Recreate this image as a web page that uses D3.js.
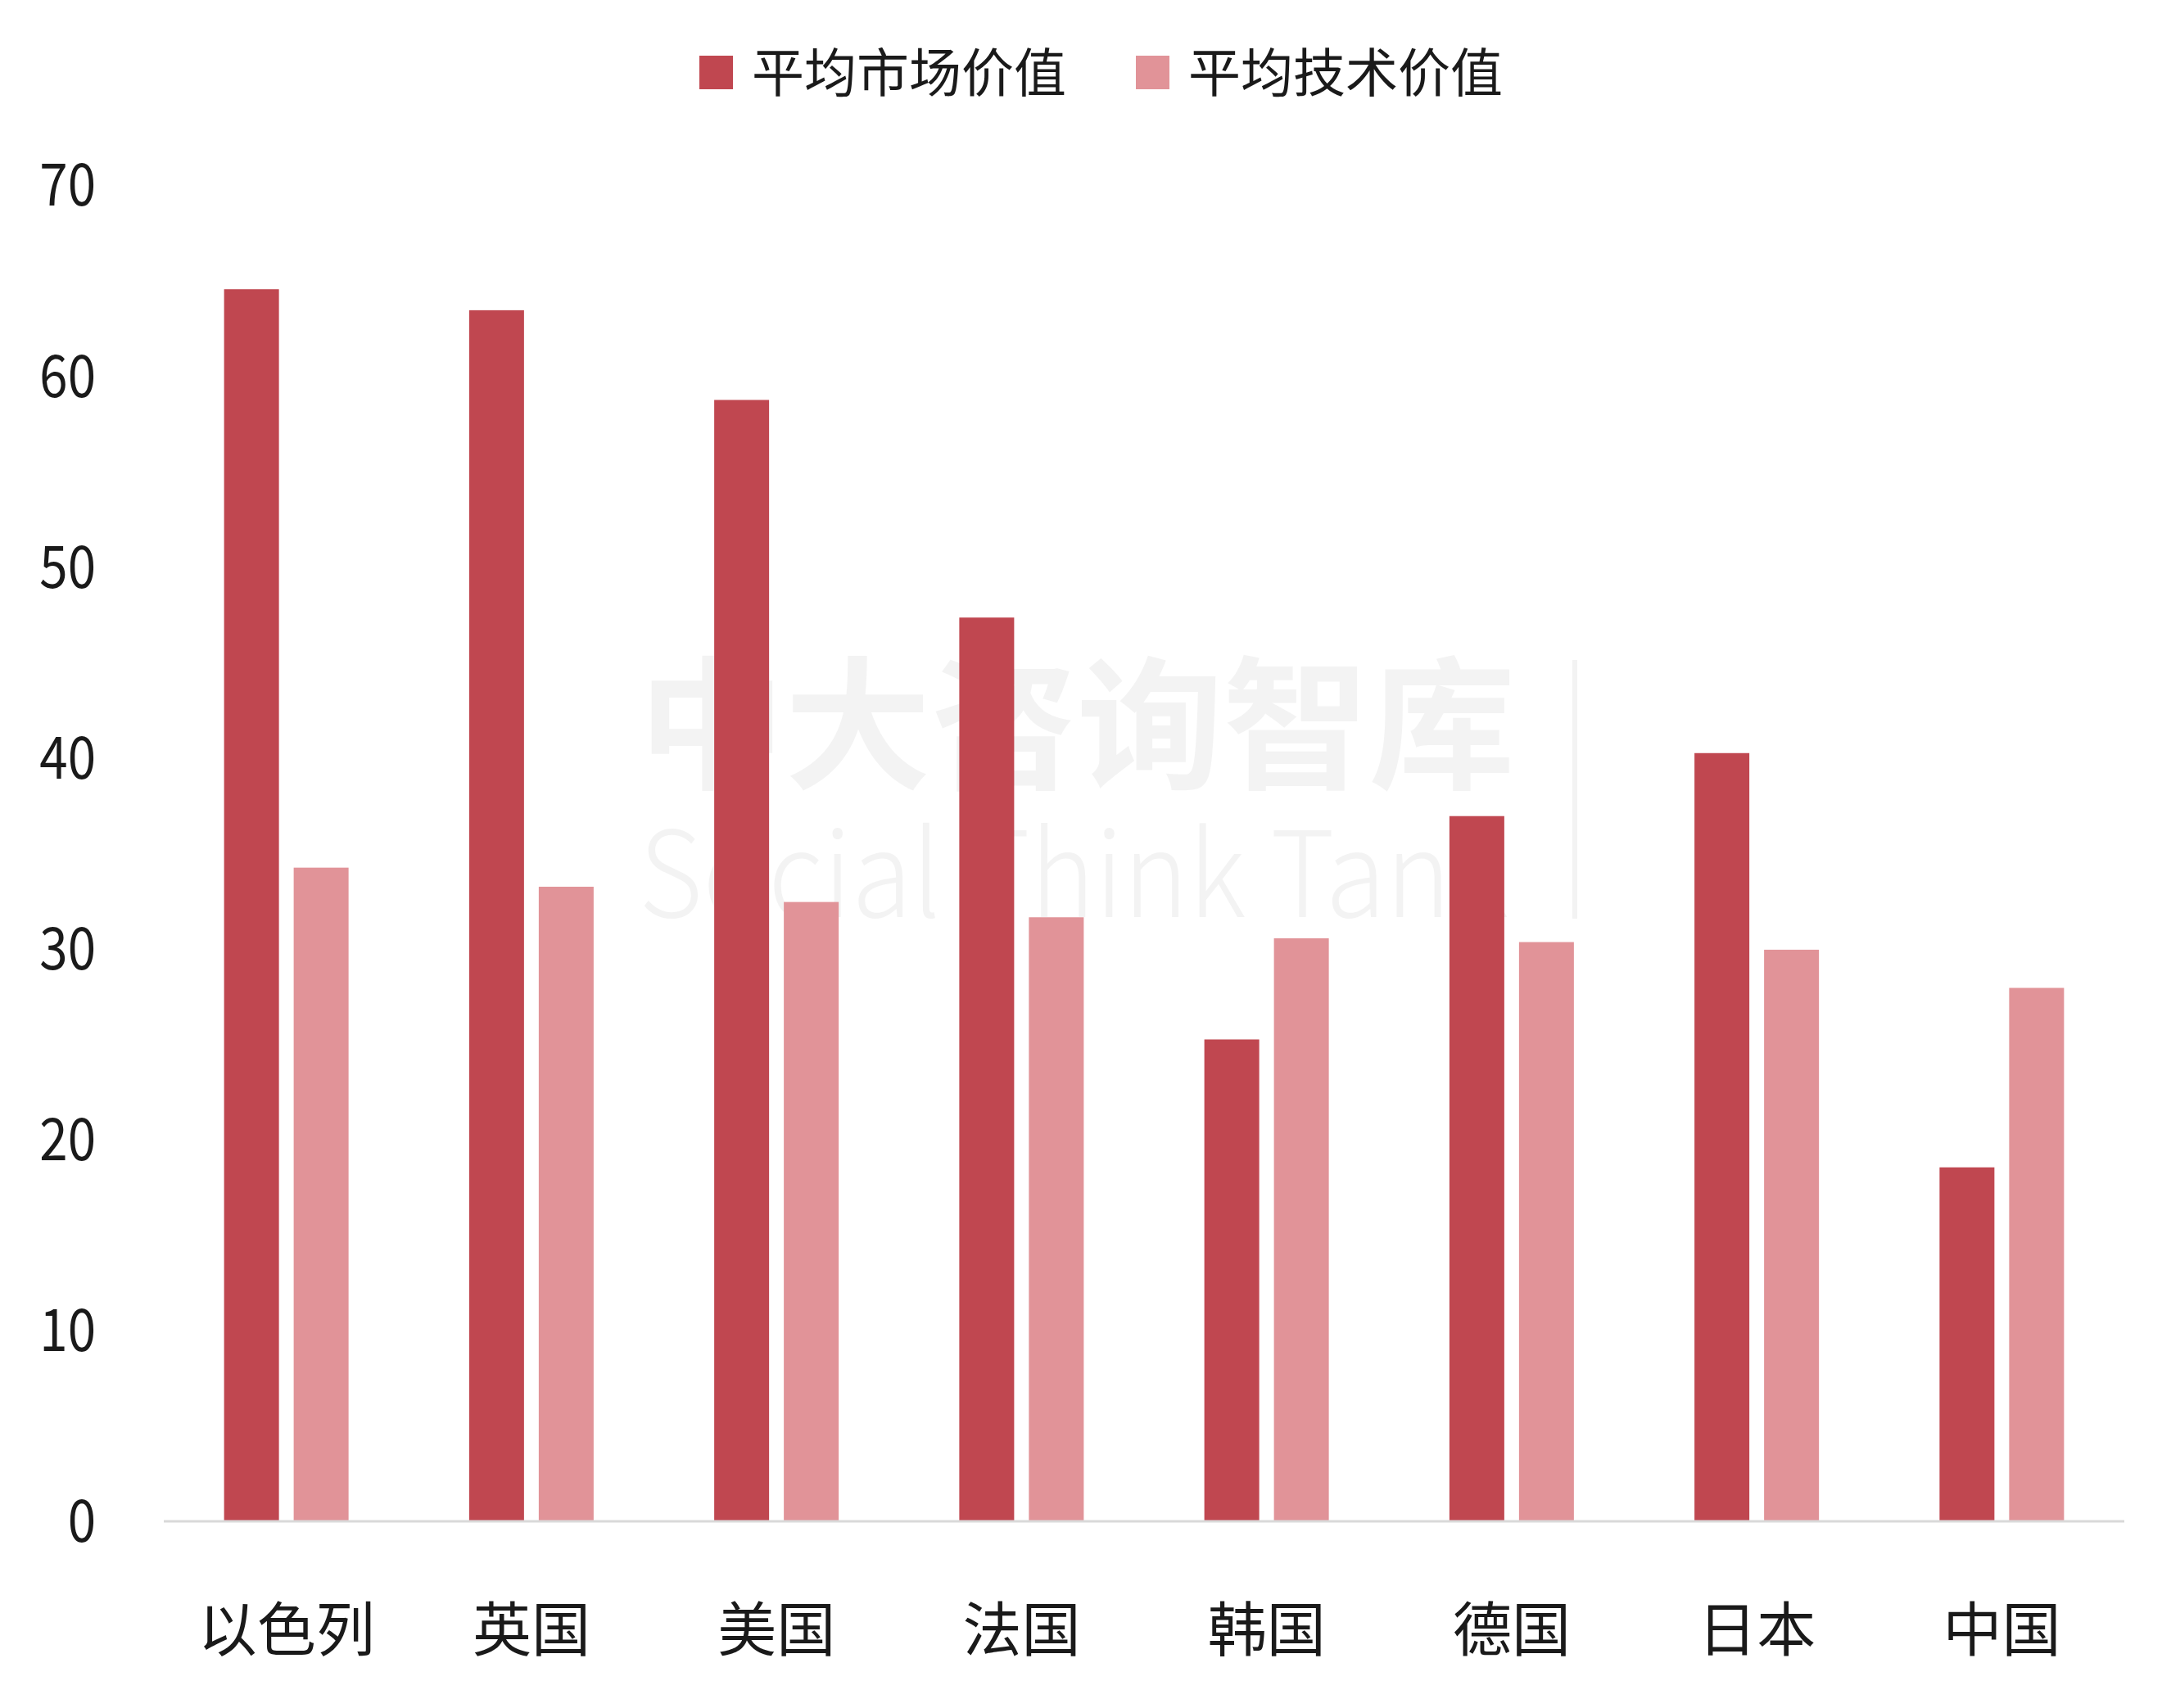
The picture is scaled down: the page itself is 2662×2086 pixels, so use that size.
<!DOCTYPE html>
<html>
<head>
<meta charset="utf-8">
<title>平均市场价值与平均技术价值</title>
<script src="https://cdn.jsdelivr.net/npm/d3@7/dist/d3.min.js"></script>
<style>
	body, html {
		margin: 0;
		background: #fff;
		overflow: hidden;
	}
	text {
		font-family: "Noto Sans CJK SC", "Noto Sans", sans-serif;
		fill: #1a1a1a;
	}
</style>
</head>
<body>
<div id="chart"></div>
<script>
	// data
	var countries = ["以色列", "英国", "美国", "法国", "韩国", "德国", "日本", "中国"];
	var seriesNames = ["平均市场价值", "平均技术价值"];
	var marketValue = [64.5, 63.4, 58.7, 47.3, 25.2, 36.9, 40.2, 18.5];
	var techValue = [34.2, 33.2, 32.4, 31.6, 30.5, 30.3, 29.9, 27.9];
	var yTicks = [0, 10, 20, 30, 40, 50, 60, 70];
	var colors = ["#c04750", "#e19398"];

	var w = 2662, h = 2086;
	var plotLeft = 200, plotRight = 2594, plotTop = 225, plotBottom = 1857;

	var svg = d3.select("#chart").append("svg")
		.attr("width", w)
		.attr("height", h);

	var x0 = d3.scaleBand()
		.domain(countries)
		.range([plotLeft, plotRight]);

	// two bars, 67px wide with an 18px gap, centred in each band
	var groupW = 152;
	var x1 = d3.scaleBand()
		.domain(seriesNames)
		.range([0, groupW])
		.paddingInner(18 / 85);

	var y = d3.scaleLinear()
		.domain([0, 70])
		.range([plotBottom, plotTop]);

	var rows = countries.map(function (c, i) {
		return { country: c, values: [marketValue[i], techValue[i]] };
	});

	// faint watermark (behind the bars)
	var wm = svg.append("g").attr("opacity", 0.045);
	wm.append("text")
		.attr("x", 780).attr("y", 950)
		.attr("font-size", 175).attr("font-weight", 700)
		.attr("textLength", 1070).attr("lengthAdjust", "spacingAndGlyphs")
		.style("fill", "#000")
		.text("中大咨询智库");
	wm.append("text")
		.attr("x", 780).attr("y", 1120)
		.attr("font-size", 145).attr("font-weight", 300)
		.attr("textLength", 1062).attr("lengthAdjust", "spacingAndGlyphs")
		.style("fill", "#000")
		.text("Social Think Tank");
	wm.append("line")
		.attr("x1", 1923).attr("x2", 1923)
		.attr("y1", 806).attr("y2", 1122)
		.attr("stroke", "#000").attr("stroke-width", 6);

	// bars
	var groups = svg.append("g").attr("class", "bars")
		.selectAll("g").data(rows)
		.enter().append("g")
		.attr("transform", function (d) {
			return "translate(" + (x0(d.country) + (x0.bandwidth() - groupW) / 2) + ",0)";
		});

	groups.selectAll("rect")
		.data(function (d) {
			return d.values.map(function (v, j) { return { key: seriesNames[j], value: v, j: j }; });
		})
		.enter().append("rect")
		.attr("x", function (d) { return x1(d.key); })
		.attr("y", function (d) { return y(d.value); })
		.attr("width", x1.bandwidth())
		.attr("height", function (d) { return y(0) - y(d.value); })
		.attr("fill", function (d) { return colors[d.j]; });

	// baseline
	svg.append("line")
		.attr("x1", plotLeft).attr("x2", plotRight)
		.attr("y1", y(0) + 1).attr("y2", y(0) + 1)
		.attr("stroke", "#d9d9d9")
		.attr("stroke-width", 3);

	// y axis labels (digits look condensed in the original)
	var yAxis = d3.axisLeft(y)
		.tickValues(yTicks)
		.tickSize(0)
		.tickPadding(0);
	var gy = svg.append("g")
		.attr("transform", "translate(117,0)")
		.call(yAxis);
	gy.select(".domain").remove();
	gy.selectAll("text")
		.attr("font-size", 72)
		.attr("font-family", "'Noto Sans CJK SC', sans-serif")
		.attr("fill", "#1a1a1a")
		.attr("dy", "0.36em")
		.attr("transform", "scale(0.86,1)");

	// x axis labels
	var xAxis = d3.axisBottom(x0).tickSize(0).tickPadding(0);
	var gx = svg.append("g")
		.attr("transform", "translate(0,1990)")
		.call(xAxis);
	gx.select(".domain").remove();
	gx.selectAll("text")
		.attr("font-size", 72)
		.attr("font-family", "'Noto Sans CJK SC', sans-serif")
		.attr("fill", "#1a1a1a")
		.attr("y", 0)
		.attr("dy", "0.36em");

	// legend
	var legendX = [854, 1387];
	var legend = svg.append("g").attr("class", "legend")
		.selectAll("g").data(seriesNames)
		.enter().append("g")
		.attr("transform", function (d, i) { return "translate(" + legendX[i] + ",68)"; });
	legend.append("rect")
		.attr("width", 41).attr("height", 41)
		.attr("fill", function (d, i) { return colors[i]; });
	legend.append("text")
		.attr("x", 64)
		.attr("y", 21)
		.attr("dy", "0.36em")
		.attr("font-size", 64)
		.text(function (d) { return d; });
</script>
</body>
</html>
